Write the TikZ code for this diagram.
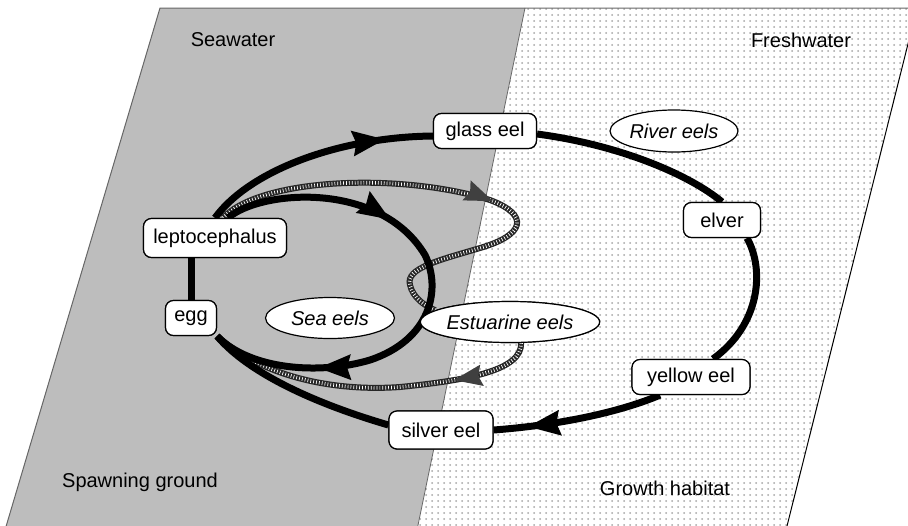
\documentclass[tikz,border=0pt]{standalone}
\usepackage{fontspec}
\setmainfont{Liberation Sans}
\usetikzlibrary{shapes.geometric,arrows.meta,decorations.markings,patterns,calc}
\begin{document}
\begin{tikzpicture}[x=0.5pt,y=-0.5pt,
  stage/.style={draw=black, line width=0.6pt, fill=white, rounded corners=4pt, inner sep=0pt, minimum height=17.5pt, font=\fontsize{10}{12}\selectfont},
  group/.style={draw=black, line width=0.6pt, fill=white, ellipse, inner sep=0pt, minimum height=20.5pt, font=\fontsize{10}{12}\selectfont\itshape},
  region/.style={font=\fontsize{10}{12}\selectfont, inner sep=0pt},
  flow/.style={line width=3.5pt, draw=black},
  midarrow/.style={postaction={decorate, decoration={markings, mark=at position #1 with {\arrow{Stealth[length=16pt,width=12pt,inset=1.5pt]}}}}},
  hatch/.style={line width=3pt, draw=black!85, postaction={draw=white, line width=1.8pt, dash pattern=on 0.35pt off 1.1pt}},
  hatcharrow/.style={postaction={decorate, decoration={markings, mark=at position #1 with {\arrow[black!75]{Stealth[length=14pt,width=10pt,inset=1.5pt]}}}}}
]
\useasboundingbox (0,0) rectangle (908,525);
\clip (0,0) rectangle (908,525);
% regions
\fill[black!26] (160,8) -- (525,8) -- (417,530) -- (5,530) -- cycle;
\fill[white] (525,8) -- (917,8) -- (786,530) -- (417,530) -- cycle;
\fill[pattern=dots, pattern color=black!35] (525,8) -- (917,8) -- (786,530) -- (417,530) -- cycle;
\draw[black!60, line width=0.4pt] (525,8) -- (417,530);
\draw[black!60, line width=0.5pt] (5,530) -- (160,8) -- (917,8);
\draw[black, line width=0.5pt] (917,8) -- (786,530);

% nodes
\node[stage, minimum width=51.5pt] (glass) at (485,131) {glass eel};
\node[stage, minimum width=38.5pt] (elver) at (722,220) {elver};
\node[stage, minimum width=71.5pt, minimum height=19.5pt] (lepto) at (215,238) {leptocephalus};
\node[stage, minimum width=25.5pt] (egg) at (191,318) {egg};
\node[stage, minimum width=52pt, minimum height=19pt] (silver) at (441,430) {silver eel};
\node[stage, minimum width=59pt] (yellow) at (691,377) {yellow eel};
\node[group, minimum width=64pt, minimum height=21pt] (river) at (674,131) {River eels};
\node[group, minimum width=64.5pt] (sea) at (330,318) {Sea eels};
\node[group, minimum width=74pt] (estu) at (510,322) {Estuarine eels};

% estuarine loop (hatched)
\draw[hatch, hatcharrow=0.58] ($(lepto.north)+(8,0)$) .. controls (260,178) and (400,172) .. (490,200)
   .. controls (530,215) and (525,235) .. (480,248)
   .. controls (440,260) and (405,268) .. (410,285)
   .. controls (413,298) and (425,306) .. (estu.171);
\draw[hatch, hatcharrow=0.25] (estu.-62) .. controls (522,370) and (470,380) .. (400,387)
   .. controls (330,392) and (260,375) .. (egg.south east);

% sea eel loop
\draw[flow, midarrow=0.33, midarrow=0.79] ($(lepto.north)+(13,0)$) .. controls (260,190) and (380,180) .. (425,255)
   .. controls (442,290) and (430,340) .. (370,360)
   .. controls (320,375) and (250,370) .. (egg.south east);

% river eel loop
\draw[flow, midarrow=0.8] (lepto.north) .. controls (250,170) and (340,137) .. ($(glass.west)+(0,5)$);
\draw[flow] ($(glass.east)+(0,3)$) .. controls (620,145) and (690,175) .. (elver.north);
\draw[flow] ($(elver.south)+(25,0)$) .. controls (765,270) and (760,325) .. ($(yellow.north)+(22,0)$);
\draw[flow, midarrow=0.8] ($(yellow.south)+(-31,0)$) .. controls (620,412) and (560,425) .. (silver.east);
\draw[flow] ($(silver.west)+(0,-5)$) .. controls (320,405) and (250,375) .. (egg.south east);
\draw[flow] (egg.north) -- (egg.north |- lepto.south);

% redraw nodes on top
\node[stage, minimum width=51.5pt] at (glass) {glass eel};
\node[stage, minimum width=38.5pt] at (elver) {elver};
\node[stage, minimum width=71.5pt, minimum height=19.5pt] at (lepto) {leptocephalus};
\node[stage, minimum width=25.5pt] at (egg) {egg};
\node[stage, minimum width=52pt, minimum height=19pt] at (silver) {silver eel};
\node[stage, minimum width=59pt] at (yellow) {yellow eel};
\node[group, minimum width=74pt] at (estu) {Estuarine eels};

% region labels
\node[region] (seaw) at (233,40) {Seawater};
\node[region] (fresh) at (801,40) {Freshwater};
\node[region] (spawn) at (140,482) {Spawning ground};
\node[region] (growth) at (665,488) {Growth habitat};
\end{tikzpicture}
\end{document}
